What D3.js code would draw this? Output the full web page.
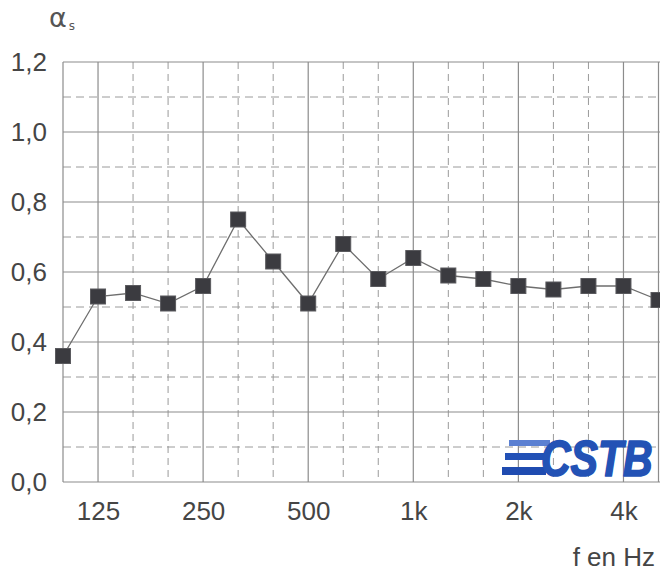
<!DOCTYPE html>
<html>
<head>
<meta charset="utf-8">
<script src="https://cdn.jsdelivr.net/npm/d3@7"></script>
<style>
  html, body { margin: 0; padding: 0; background: #fff; }
  svg { display: block; }
</style>
</head>
<body>
<svg id="chart" width="660" height="573"></svg>
<script>
// Third-octave bands, 100 Hz to 5 kHz
const bands = ["100","125","160","200","250","315","400","500","630","800",
               "1k","1.25k","1.6k","2k","2.5k","3.15k","4k","5k"];
// Octave bands that carry a label and a solid grid line
const octaveBands = ["125","250","500","1k","2k","4k"];
const octaveLabels = ["125","250","500","1k","2k","4k"];
// Sound absorption coefficient per band
const alphaS = [0.36,0.53,0.54,0.51,0.56,0.75,0.63,0.51,0.68,0.58,
                0.64,0.59,0.58,0.56,0.55,0.56,0.56,0.52];
// Y axis ticks
const yTicks = [0, 0.2, 0.4, 0.6, 0.8, 1.0, 1.2];
const yMinor = [0.1, 0.3, 0.5, 0.7, 0.9, 1.1];

const svg = d3.select("#chart");
const W = 660, H = 573;
const mLeft = 63, mRight = 658.5, mTop = 62, mBottom = 482;

const x = d3.scalePoint().domain(bands).range([mLeft, mRight]);
const y = d3.scaleLinear().domain([0, 1.2]).range([mBottom, mTop]);

const fmt = v => d3.format(".1f")(v).replace(".", ",");

const grid = svg.append("g");
const gridColor = "#8c8c8c";

// Dashed horizontal lines at odd tenths
grid.selectAll("line.hminor").data(yMinor).join("line")
  .attr("x1", mLeft).attr("x2", W)
  .attr("y1", d => y(d)).attr("y2", d => y(d))
  .attr("stroke", "#9a9a9a").attr("stroke-width", 1)
  .attr("stroke-dasharray", "8,5");

// Dashed vertical lines at intermediate third-octave bands
const minorBands = bands.filter((b, i) => i > 0 && i < bands.length - 1 && !octaveBands.includes(b));
grid.selectAll("line.vminor").data(minorBands).join("line")
  .attr("x1", d => x(d)).attr("x2", d => x(d))
  .attr("y1", mTop).attr("y2", mBottom)
  .attr("stroke", "#9a9a9a").attr("stroke-width", 1)
  .attr("stroke-dasharray", "7,5");

// Solid horizontal lines
grid.selectAll("line.hmajor").data(yTicks).join("line")
  .attr("x1", mLeft).attr("x2", W)
  .attr("y1", d => y(d)).attr("y2", d => y(d))
  .attr("stroke", gridColor).attr("stroke-width", 1.2);

// Solid vertical lines: plot borders and octave bands
grid.selectAll("line.vmajor").data(["100", ...octaveBands, "5k"]).join("line")
  .attr("x1", d => x(d)).attr("x2", d => x(d))
  .attr("y1", mTop).attr("y2", mBottom)
  .attr("stroke", gridColor).attr("stroke-width", 1.2);

// Y tick labels
const yAxis = d3.axisLeft(y).tickValues(yTicks).tickFormat(fmt).tickSize(0).tickPadding(16);
const ya = svg.append("g").attr("transform", `translate(${mLeft},0)`).call(yAxis);
ya.select(".domain").remove();
ya.selectAll("text")
  .attr("font-family", "'Liberation Sans', Arial, sans-serif")
  .attr("font-size", 26).attr("fill", "#454545");

// X tick labels
const xAxis = d3.axisBottom(x).tickValues(octaveBands)
  .tickFormat((d, i) => octaveLabels[i]).tickSize(0).tickPadding(20);
const xa = svg.append("g").attr("transform", `translate(0,${mBottom})`).call(xAxis);
xa.select(".domain").remove();
xa.selectAll("text")
  .attr("font-family", "'Liberation Sans', Arial, sans-serif")
  .attr("font-size", 26).attr("fill", "#454545");

// Axis titles
const alpha = svg.append("text")
  .attr("x", 49).attr("y", 27)
  .attr("font-family", "'DejaVu Sans', sans-serif")
  .attr("font-size", 27).attr("fill", "#555");
alpha.append("tspan").text("α");
alpha.append("tspan").attr("font-size", 12).attr("dx", 2).attr("dy", 3).text("s");

svg.append("text")
  .attr("x", 655).attr("y", 566).attr("text-anchor", "end")
  .attr("font-family", "'Liberation Sans', Arial, sans-serif")
  .attr("font-size", 26).attr("fill", "#454545")
  .text("f en Hz");

// Data line and markers
const plot = svg.append("g");
plot.append("path")
  .datum(alphaS)
  .attr("fill", "none")
  .attr("stroke", "#6e6e6e").attr("stroke-width", 1.3)
  .attr("d", d3.line().x((d, i) => x(bands[i])).y(d => y(d)));

const ms = 15;
plot.selectAll("rect.m").data(alphaS).join("rect")
  .attr("x", (d, i) => x(bands[i]) - ms / 2)
  .attr("y", d => y(d) - ms / 2)
  .attr("width", ms).attr("height", ms)
  .attr("fill", "#3b3b40")
  .attr("stroke", "#5a5a5e").attr("stroke-width", 1);

// CSTB logo: three stripes and a condensed bold italic wordmark
const logo = svg.append("g");
const stripes = [
  {x0: 509, x1: 550, y: 440, h: 6, c: "#5b80d2"},
  {x0: 505, x1: 548, y: 453, h: 7, c: "#2251b6"},
  {x0: 502, x1: 546, y: 467, h: 8, c: "#1f4bb0"}
];
logo.selectAll("rect").data(stripes).join("rect")
  .attr("x", d => d.x0).attr("y", d => d.y)
  .attr("width", d => d.x1 - d.x0).attr("height", d => d.h)
  .attr("fill", d => d.c);
logo.append("text")
  .attr("transform", "translate(541,476) scale(1,1.2)")
  .attr("font-family", "'Liberation Sans', Arial, sans-serif")
  .attr("font-weight", "bold").attr("font-style", "italic")
  .attr("font-size", 41)
  .attr("fill", "#2352b5")
  .attr("stroke", "#2352b5").attr("stroke-width", 1.4).attr("stroke-linejoin", "round")
  .text("CSTB");
</script>
</body>
</html>
